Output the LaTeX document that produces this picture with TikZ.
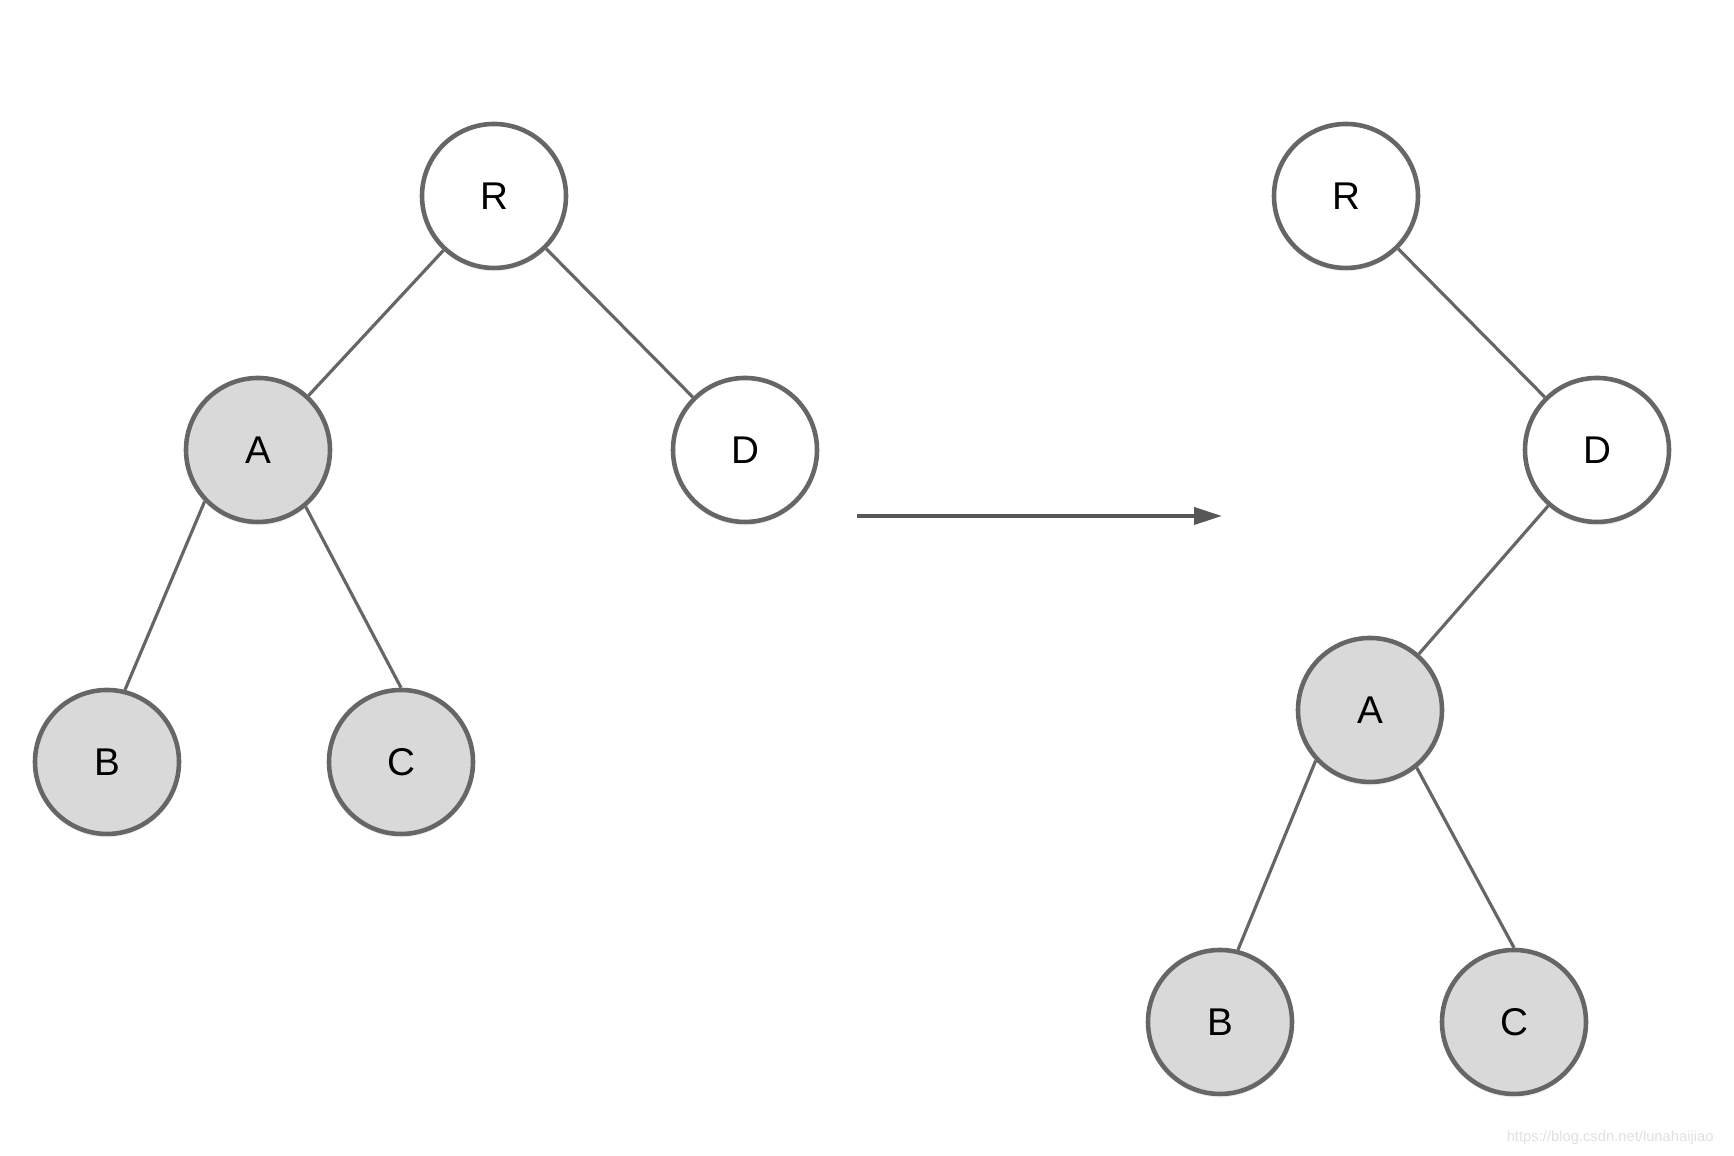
\documentclass[tikz,border=0pt]{standalone}
\usepackage{fontspec}
\setmainfont{Liberation Sans}
\usetikzlibrary{arrows.meta,shadows}
\definecolor{EdgeClr}{HTML}{666666}
\definecolor{MarkClr}{HTML}{D9D9D9}

\begin{document}
\begin{tikzpicture}[
  vtx/.style={circle,draw=EdgeClr,line width=1.3pt,fill=white,minimum size=1.44cm,
    inner sep=0pt,font=\fontsize{11}{13}\selectfont,
    drop shadow={opacity=0.12,shadow xshift=0pt,shadow yshift=-0.35mm}},
  marked/.style={vtx,fill=MarkClr},
  edge/.style={draw=EdgeClr,line width=0.9pt}]
\useasboundingbox (0,0) rectangle (17.34,11.56);

\node[vtx]    (R1) at (4.94,9.60) {R};
\node[marked] (A1) at (2.58,7.06) {A};
\node[vtx]    (D1) at (7.45,7.06) {D};
\node[marked] (B1) at (1.07,3.94) {B};
\node[marked] (C1) at (4.01,3.94) {C};

\draw[edge] (R1) -- (A1);
\draw[edge] (R1) -- (D1);
\draw[edge] (A1.224) -- (B1.76);
\draw[edge] (A1.310) -- (C1.90);

\node[vtx]    (R2) at (13.46,9.60) {R};
\node[vtx]    (D2) at (15.97,7.06) {D};
\node[marked] (A2) at (13.70,4.46) {A};
\node[marked] (B2) at (12.20,1.34) {B};
\node[marked] (C2) at (15.14,1.34) {C};

\draw[edge] (R2) -- (D2);
\draw[edge] (D2) -- (A2);
\draw[edge] (A2.223) -- (B2.76);
\draw[edge] (A2.309) -- (C2.90);

\coordinate (from) at (8.57,6.40);
\coordinate (to) at (12.22,6.40);
\draw[draw=EdgeClr!85!black,line width=1.1pt,-{Triangle[length=2.8mm,width=1.7mm]}] (from) -- (to);

\node[text=black!12,font=\fontsize{4.2}{5}\selectfont,anchor=east] (mark) at (17.26,0.18) {https://blog.csdn.net/lunahaijiao};
\end{tikzpicture}
\end{document}
